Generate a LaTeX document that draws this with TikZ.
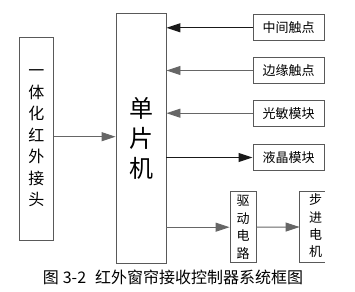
\documentclass[tikz,border=0pt]{standalone}
\usepackage{fontspec}
\setmainfont{Noto Sans CJK SC}
\usetikzlibrary{arrows.meta}
\begin{document}
\begin{tikzpicture}[x=1pt,y=-1pt,
  box/.style={draw=black!65,line width=0.9pt,rectangle,inner sep=0pt,align=center},
  arr/.style={draw=black!60,line width=0.9pt,-{Triangle[length=14pt,width=9pt]}},
  arrk/.style={arr,draw=black!90,line width=1.1pt}]
\useasboundingbox (0,0) rectangle (355,291);
\node[box,minimum width=34pt,minimum height=203pt,font=\fontsize{16}{21.5}\selectfont] (ir) at (36.3,138.5) {一\\体\\化\\红\\外\\接\\头};
\node[box,minimum width=50pt,minimum height=250pt,font=\fontsize{24}{30}\selectfont] (mcu) at (141,138) {单\\片\\机};
\node[box,minimum width=71.5pt,minimum height=25.7pt,font=\fontsize{13}{15}\selectfont] (r1) at (288.7,27.8) {中间触点};
\node[box,minimum width=71.5pt,minimum height=25.7pt,font=\fontsize{13}{15}\selectfont] (r2) at (288.7,70.5) {边缘触点};
\node[box,minimum width=71.5pt,minimum height=25.7pt,font=\fontsize{13}{15}\selectfont] (r3) at (288.7,113.2) {光敏模块};
\node[box,minimum width=71.5pt,minimum height=25.7pt,font=\fontsize{13}{15}\selectfont] (r4) at (288.7,157.5) {液晶模块};
\node[box,minimum width=26pt,minimum height=71pt,font=\fontsize{13}{17.5}\selectfont] (drv) at (243,227.2) {驱\\动\\电\\路};
\node[box,draw=none,minimum width=24.3pt,minimum height=70.6pt] (stp) at (312.2,227) {};
\node[font=\fontsize{13}{17.3}\selectfont,align=center,inner sep=0pt] (stpt) at (315.5,226) {步\\进\\电\\机};
\draw[black!65,line width=0.9pt] (stp.north east) -- (stp.north west) -- (stp.south west) -- (stp.south east);
\draw[arr] (ir.east |- 0,136.7) -- (mcu.west |- 0,136.7);
\draw[arrk] (r1.west) -- (r1.west -| mcu.east);
\draw[arr] (r2.west) -- (r2.west -| mcu.east);
\draw[arr] (r3.west) -- (r3.west -| mcu.east);
\draw[arrk] (r4.west -| mcu.east) -- (r4.west);
\draw[arr] (drv.west -| mcu.east) -- (drv.west);
\draw[arr] (drv.east) -- (stp.west);
\node[font=\fontsize{16}{18}\selectfont,inner sep=0pt] (cap) at (173,277) {图\hspace{4pt}3-2\hspace{9pt}红外窗帘接收控制器系统框图};
\end{tikzpicture}
\end{document}
